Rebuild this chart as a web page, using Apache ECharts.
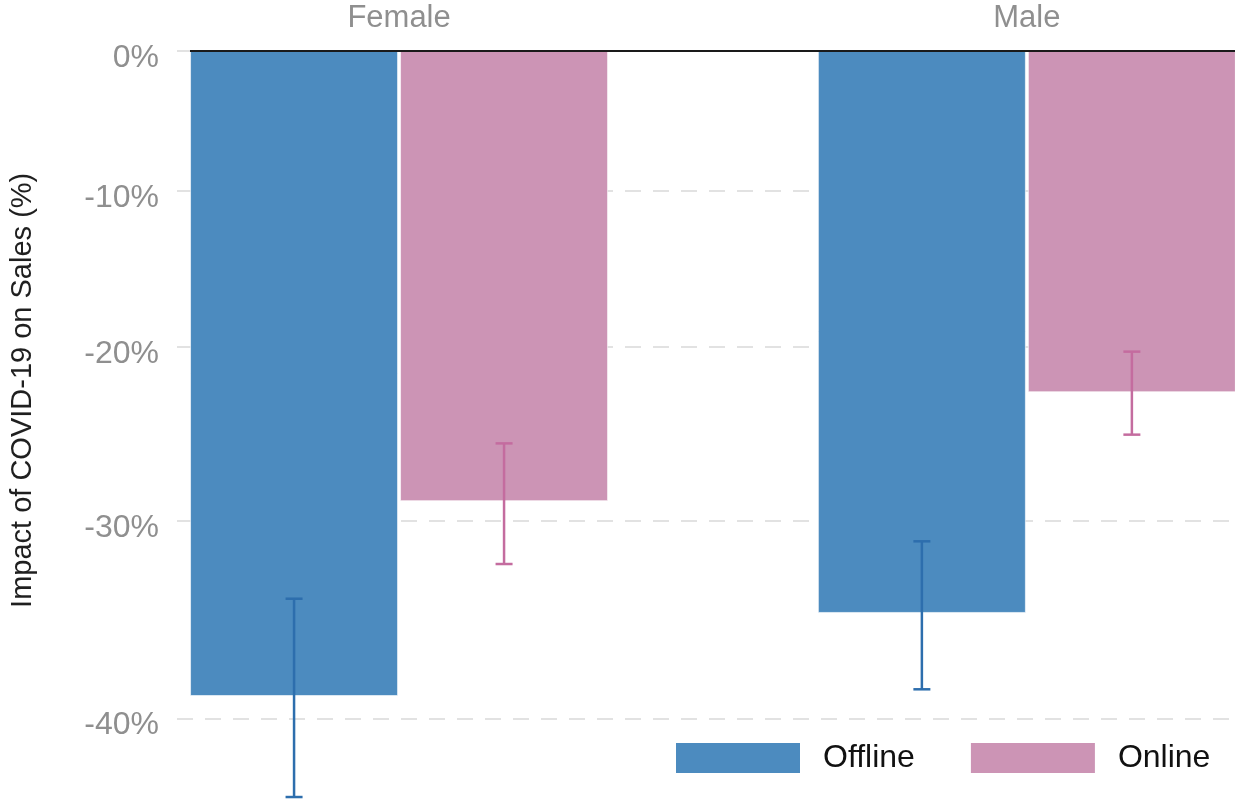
<!DOCTYPE html>
<html>
<head>
<meta charset="utf-8">
<script src="https://cdn.jsdelivr.net/npm/echarts@6/dist/echarts.min.js"></script>
<style>
html,body{margin:0;padding:0;background:#fff;}
#main{width:1235px;height:806px;}
</style>
</head>
<body>
<div id="main"></div>
<script>
// ---- data ----
const categories = ['Female', 'Male'];
const seriesNames = ['Offline', 'Online'];
const offlineValues = [-38.9, -34.8];
const offlineLow = [-43.6, -38.6];
const offlineHigh = [-34.1, -31.1];
const onlineValues = [-28.9, -22.7];
const onlineLow = [-32.3, -25.2];
const onlineHigh = [-25.7, -20.3];
const yTickLabels = [0, -10, -20, -30, -40];
const yAxisMinPct = -44;

// ---- scale transform (log-point style axis) ----
const K = 0.92;
function toAxis(p) { return Math.log(1 + K * p / 100); }
function fromAxis(v) { return (Math.exp(v) - 1) / K * 100; }

const FONT = 'Liberation Sans';

function makeRender(side, barColor, errColor) {
  return function (params, api) {
    const x = api.value(0), v = api.value(1), lo = api.value(2), hi = api.value(3);
    const c0 = api.coord([x, 0]);
    const cv = api.coord([x, v]);
    const clo = api.coord([x, lo]);
    const chi = api.coord([x, hi]);
    const gap = 1.5, bw = 207, cap = 8.5;
    const left = side < 0 ? c0[0] - gap - bw : c0[0] + gap;
    const mid = left + bw / 2;
    const es = { stroke: errColor, lineWidth: 2.5 };
    return {
      type: 'group',
      children: [
        { type: 'rect', shape: { x: left, y: c0[1], width: bw, height: cv[1] - c0[1] },
          style: { fill: barColor, stroke: 'rgba(255,255,255,0.6)', lineWidth: 1 } },
        { type: 'line', shape: { x1: mid, y1: chi[1], x2: mid, y2: clo[1] }, style: es },
        { type: 'line', shape: { x1: mid - cap, y1: chi[1], x2: mid + cap, y2: chi[1] }, style: es },
        { type: 'line', shape: { x1: mid - cap, y1: clo[1], x2: mid + cap, y2: clo[1] }, style: es }
      ]
    };
  };
}

const chart = echarts.init(document.getElementById('main'), null, { renderer: 'canvas' });

const option = {
  backgroundColor: '#ffffff',
  animation: false,
  grid: { left: 175, right: 0, top: 50.7, height: 758.1, containLabel: false },
  legend: {
    data: seriesNames,
    left: 676, top: 742,
    icon: 'rect',
    itemWidth: 124, itemHeight: 30, itemGap: 56,
    padding: 0,
    textStyle: { fontFamily: FONT, fontSize: 32, color: '#111111', padding: [12, 0, 0, 18] }
  },
  xAxis: {
    type: 'value',
    position: 'top',
    min: -0.3537, max: 1.3315,
    axisLine: { show: false },
    axisTick: { show: false, customValues: [0, 1] },
    splitLine: { show: false },
    axisLabel: {
      customValues: [0, 1],
      formatter: function (v) { return categories[Math.round(v)] || ''; },
      fontFamily: FONT, fontSize: 31, color: '#8f8f8f', margin: 17
    }
  },
  yAxis: {
    type: 'value',
    min: toAxis(yAxisMinPct), max: 0,
    name: 'Impact of COVID-19 on Sales (%)',
    nameLocation: 'middle',
    nameRotate: 90,
    nameGap: 140,
    nameTextStyle: { fontFamily: FONT, fontSize: 29, color: '#1f1f1f', padding: [0, 0, 0, 76] },
    axisLine: { show: false },
    axisTick: { show: false, customValues: yTickLabels.map(toAxis) },
    axisLabel: {
      customValues: yTickLabels.map(toAxis),
      formatter: function (v) { return Math.round(fromAxis(v)) + '%'; },
      fontFamily: FONT, fontSize: 32, color: '#8f8f8f', margin: 18,
      verticalAlign: 'top', lineHeight: 14
    },
    splitLine: { show: true, lineStyle: { color: '#d9d9d9', width: 1.5, type: [16, 12] } }
  },
  series: [
    {
      name: 'Offline',
      type: 'custom',
      itemStyle: { color: '#4c8bbf' },
      encode: { x: 0, y: 1 },
      renderItem: makeRender(-1, '#4c8bbf', '#2d6ead'),
      data: offlineValues.map((v, i) => [i, toAxis(v), toAxis(offlineLow[i]), toAxis(offlineHigh[i])]),
      z: 2,
      markLine: {
        silent: true, symbol: ['none', 'none'],
        label: { show: false },
        lineStyle: { color: '#1a1a1a', width: 2, type: 'solid' },
        data: [[{ coord: [-0.333, 0] }, { coord: [1.3315, 0] }]]
      }
    },
    {
      name: 'Online',
      type: 'custom',
      itemStyle: { color: '#cc94b5' },
      encode: { x: 0, y: 1 },
      renderItem: makeRender(1, '#cc94b5', '#c46c9f'),
      data: onlineValues.map((v, i) => [i, toAxis(v), toAxis(onlineLow[i]), toAxis(onlineHigh[i])]),
      z: 2
    }
  ]
};

chart.setOption(option);
</script>
</body>
</html>
